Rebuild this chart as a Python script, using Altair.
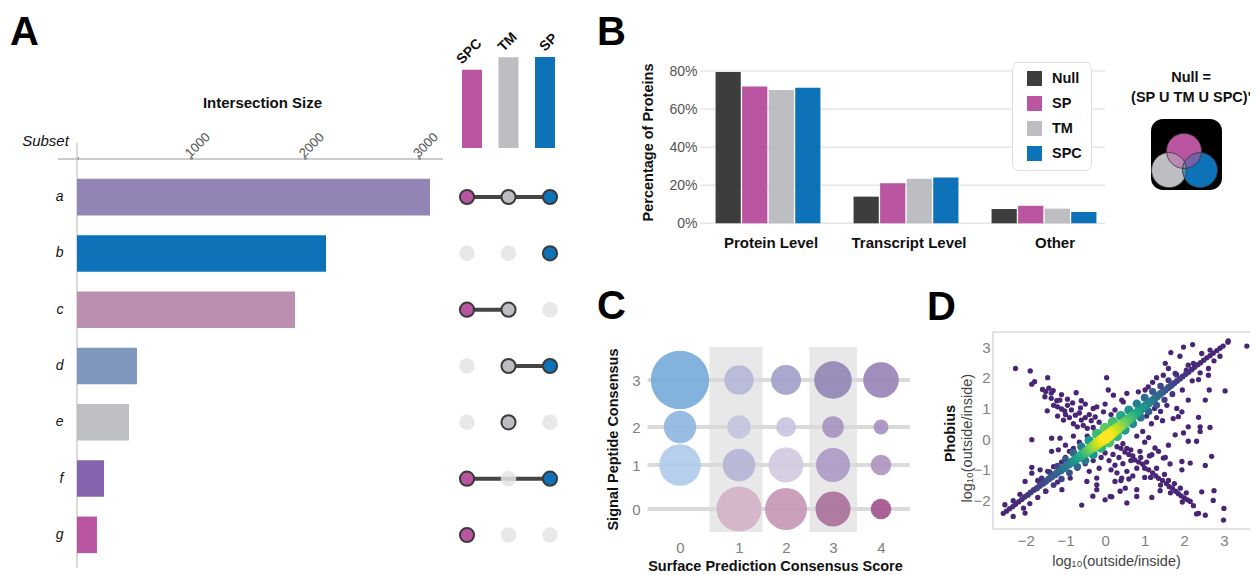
import altair as alt
import pandas as pd

W, H = 1242, 567
FONT = "Liberation Sans"

# ---------------- Panel A : UpSet ----------------
subsets = ["a", "b", "c", "d", "e", "f", "g"]
subset_sizes = [3096, 2184, 1912, 526, 456, 237, 175]
subset_colors = ["#9384b6", "#0e72b8", "#bb8fb0", "#7f96bf", "#bebfc3", "#8465ad", "#b955a1"]
subset_members = [["SPC", "TM", "SP"], ["SP"], ["SPC", "TM"], ["TM", "SP"], ["TM"], ["SPC", "SP"], ["SPC"]]
set_names = ["SPC", "TM", "SP"]
set_sizes = [5210, 6040, 6060]
set_colors = ["#b955a1", "#bdbec2", "#0e72b8"]
a_ticks = [0, 1000, 2000, 3000]

# ---------------- Panel B : grouped bars ----------------
b_categories = ["Protein Level", "Transcript Level", "Other"]
b_groups = ["Null", "SP", "TM", "SPC"]
b_colors = ["#3d3d3d", "#b955a1", "#bdbec2", "#0e72b8"]
b_null = [0.795, 0.14, 0.075]
b_sp = [0.718, 0.21, 0.092]
b_tm = [0.700, 0.234, 0.077]
b_spc = [0.712, 0.240, 0.060]
b_ticks = [0, 0.2, 0.4, 0.6, 0.8]

# ---------------- Venn icon ----------------
venn_sets = ["TM", "SP", "SPC"]
venn_cx = [0.254, 0.69, 0.465]
venn_cy = [0.72, 0.72, 0.45]
venn_colors = ["#bdbec2", "#0e72b8", "#b955a1"]
venn_text = ["Null =", "(SP U TM U SPC)'"]
venn_text_y = [-0.58, -0.30]

# ---------------- Panel C : bubble grid ----------------
c_x = [0, 1, 2, 3, 4, 0, 1, 2, 3, 4, 0, 1, 2, 3, 4, 1, 2, 3, 4]
c_y = [3, 3, 3, 3, 3, 2, 2, 2, 2, 2, 1, 1, 1, 1, 1, 0, 0, 0, 0]
c_n = [853, 216, 225, 353, 317, 262, 137, 100, 117, 56, 433, 266, 306, 289, 106, 506, 441, 306, 106]
c_col = ["#78acd9", "#b4b8d8", "#a3a1cb", "#9286b6", "#9984b6",
         "#8fb6e0", "#c3c3de", "#cbc6e0", "#a794c0", "#a893c0",
         "#b0cbeb", "#b6b4d6", "#d2cae0", "#ae9ac6", "#ae96c2",
         "#d2b2c8", "#c598b6", "#a97199", "#a3548e"]
c_shaded = [1, 3]
c_levels = [0, 1, 2, 3]

# ---------------- Panel D : density scatter ----------------
band_x = [-2.57, -2.49, -2.41, -2.33, -2.26, -2.18, -2.1, -2.03, -1.95, -1.88,
          -1.8, -1.72, -1.65, -1.57, -1.5, -1.42, -1.35, -1.27, -1.2, -1.12,
          -1.05, -0.98, -0.9, -0.83, -0.76, -0.69, -0.62, -0.55, -0.48, -0.41,
          -0.34, -0.27, -0.2, -0.14, -0.07, 0.0, 0.06, 0.12, 0.19, 0.26,
          0.33, 0.4, 0.47, 0.54, 0.61, 0.68, 0.75, 0.82, 0.89, 0.96,
          1.03, 1.1, 1.17, 1.24, 1.31, 1.38, 1.45, 1.52, 1.6, 1.67,
          1.74, 1.82, 1.89, 1.96, 2.04, 2.11, 2.19, 2.26, 2.34, 2.41,
          2.49, 2.57, 2.65, 2.73, 2.82, 2.9, 2.98, 3.1]
band_y = [-2.42, -2.35, -2.27, -2.2, -2.12, -2.04, -1.96, -1.88, -1.82, -1.74,
          -1.66, -1.6, -1.52, -1.45, -1.38, -1.3, -1.23, -1.16, -1.09, -1.02,
          -0.95, -0.88, -0.81, -0.74, -0.68, -0.61, -0.55, -0.48, -0.42, -0.35,
          -0.28, -0.22, -0.15, -0.09, -0.02, 0.04, 0.1, 0.16, 0.23, 0.3,
          0.37, 0.44, 0.51, 0.58, 0.66, 0.73, 0.8, 0.87, 0.95, 1.02,
          1.09, 1.17, 1.24, 1.31, 1.39, 1.46, 1.53, 1.6, 1.68, 1.75,
          1.82, 1.9, 1.97, 2.04, 2.12, 2.19, 2.27, 2.34, 2.42, 2.49,
          2.57, 2.65, 2.72, 2.8, 2.88, 2.96, 3.03, 3.16]
band_d = [0.1, 0.1, 0.11, 0.11, 0.12, 0.12, 0.13, 0.14, 0.15, 0.16,
          0.17, 0.18, 0.2, 0.21, 0.23, 0.25, 0.27, 0.29, 0.31, 0.34,
          0.37, 0.4, 0.43, 0.47, 0.51, 0.55, 0.6, 0.64, 0.69, 0.74,
          0.79, 0.84, 0.89, 0.93, 0.97, 1.0, 1.0, 0.97, 0.93, 0.89,
          0.85, 0.81, 0.77, 0.73, 0.69, 0.65, 0.61, 0.57, 0.53, 0.5,
          0.46, 0.43, 0.4, 0.37, 0.34, 0.31, 0.28, 0.26, 0.24, 0.22,
          0.2, 0.18, 0.17, 0.16, 0.15, 0.14, 0.13, 0.12, 0.12, 0.11,
          0.11, 0.1, 0.1, 0.1, 0.1, 0.1, 0.1, 0.1]
fringe_x = [-1.6, -1.4, -1.2, -1.0, -0.8, -0.6, -0.4, -0.2, 0.0, 0.2, 0.4, 0.6, 0.8, 1.0, 1.2, 1.4, 1.6, 1.8,
            -1.5, -1.3, -1.1, -0.9, -0.7, -0.5, -0.3, -0.1, 0.1, 0.3, 0.5, 0.7, 0.9, 1.1, 1.3, 1.5, 1.7]
fringe_y = [-1.28, -1.08, -0.88, -0.66, -0.45, -0.25, -0.05, 0.17, 0.36, 0.56, 0.76, 0.95, 1.15, 1.35, 1.55, 1.73, 1.92, 2.1,
            -1.7, -1.5, -1.3, -1.1, -0.9, -0.7, -0.5, -0.28, -0.1, 0.1, 0.3, 0.5, 0.7, 0.9, 1.1, 1.28, 1.47]
fringe_d = [0.13, 0.16, 0.2, 0.25, 0.32, 0.42, 0.55, 0.68, 0.75, 0.7, 0.6, 0.5, 0.42, 0.34, 0.27, 0.21, 0.16, 0.13,
            0.12, 0.15, 0.19, 0.24, 0.31, 0.4, 0.52, 0.65, 0.72, 0.66, 0.56, 0.47, 0.39, 0.31, 0.25, 0.19, 0.15]
upper_left_pts = [(-2.26, 2.30), (-1.89, 2.22), (-1.78, 1.87), (-1.85, 1.79), (-1.45, 2.00), (-1.58, 1.62),
                  (-1.50, 1.55), (-1.42, 1.66), (-1.36, 1.50), (-1.31, 1.58), (-1.52, 1.38), (-1.36, 1.33),
                  (-1.22, 1.25), (-1.14, 1.27), (-1.46, 0.92), (-1.20, 1.05), (-1.10, 0.98), (-0.95, 1.10),
                  (-0.85, 0.95), (-0.73, 1.51), (-0.50, 1.14), (-0.30, 1.00), (-0.21, 1.05), (0.00, 1.14),
                  (-0.04, 0.89), (-1.00, 0.80), (-0.90, 0.70), (-0.75, 0.78), (-0.65, 0.85), (-0.60, 0.62),
                  (-0.50, 0.70), (-0.40, 0.80), (-0.35, 0.60), (-0.25, 0.72), (-1.05, 0.62), (-0.80, 0.50),
                  (-0.70, 0.40), (-0.55, 0.45), (-0.45, 0.35), (-1.20, 0.75), (-1.30, 1.10), (-0.95, 1.30),
                  (-0.60, 1.25), (-1.10, 1.45), (-0.15, 0.55), (-0.30, 0.38), (0.04, 2.00), (0.08, 1.60),
                  (0.21, 1.43), (0.42, 1.27), (0.55, 1.49), (0.46, 1.21), (0.84, 1.54), (1.01, 1.60),
                  (1.09, 1.70), (0.25, 0.95), (0.15, 0.80), (-0.82, 1.18), (-1.02, 0.92), (-0.62, 1.02)]
upper_right_pts = [(1.66, 2.82), (1.89, 2.70), (1.98, 3.00), (2.21, 3.08), (2.44, 2.79), (2.65, 2.90),
                   (1.52, 2.47), (2.10, 2.41), (2.23, 2.47), (1.47, 2.08), (1.77, 2.14), (1.30, 2.00),
                   (1.20, 1.85), (1.60, 2.30), (3.58, 3.03), (3.11, 3.20), (2.61, 2.30), (2.40, 2.16),
                   (2.36, 1.94), (2.61, 2.08), (2.63, 1.60), (3.03, 1.57), (2.10, 1.27), (2.53, 1.27),
                   (1.81, 1.00), (1.94, 0.89), (1.85, 0.73), (1.72, 0.67), (2.10, 0.40), (2.40, 0.40),
                   (2.65, 0.38), (2.36, 0.71), (1.17, 0.50), (1.30, 0.70), (1.40, 0.90), (1.56, 1.10),
                   (1.25, 1.00), (1.45, 0.60), (2.20, 1.90), (1.95, 1.60), (2.75, 2.55), (2.90, 2.70),
                   (2.05, 2.25), (1.70, 1.45), (1.05, 0.75)]
right_arm_pts = [(1.77, 0.14), (1.98, 0.20), (2.10, -0.07), (2.31, -0.07), (2.40, 0.25), (2.69, -0.56),
                 (2.53, -0.86), (1.94, -0.73), (2.15, -0.78), (1.94, -1.00), (1.47, -0.62), (1.52, -0.60),
                 (1.64, -0.81), (1.26, -0.29), (1.35, -0.40), (1.18, -0.51), (1.00, -0.10), (0.80, 0.10),
                 (0.95, 0.25), (1.10, 0.05), (1.60, -0.20), (0.30, -0.25), (0.40, -0.30), (0.50, -0.42),
                 (0.60, -0.50), (0.70, -0.55), (0.75, -0.68), (0.85, -0.75), (0.95, -0.82), (1.00, -0.95),
                 (1.10, -1.00), (1.20, -1.10), (1.28, -1.20), (1.35, -1.28), (1.45, -1.35), (1.55, -1.45),
                 (1.62, -1.55), (1.70, -1.60), (1.78, -1.70), (1.85, -1.78), (1.92, -1.85), (2.00, -1.92),
                 (2.08, -1.98), (2.15, -2.03), (2.23, -2.17), (0.55, -0.30), (0.65, -0.70), (0.90, -0.60),
                 (0.80, -0.95), (1.05, -0.75), (1.15, -1.25), (1.30, -0.95), (1.40, -1.50), (1.50, -1.15),
                 (1.60, -1.35), (1.65, -1.75), (1.75, -1.45), (1.90, -1.60), (1.95, -2.05), (2.05, -1.75),
                 (0.20, -0.50), (0.35, -0.60), (0.45, -0.80), (0.25, -0.85), (0.10, -0.70), (0.00, -0.45),
                 (-0.10, -0.60), (0.15, -1.00), (0.30, -1.10), (0.55, -1.05), (0.60, -1.30), (0.70, -1.20),
                 (0.51, -1.60), (0.55, -2.08), (0.80, -1.65), (0.80, -1.87), (1.18, -1.90), (1.39, -1.68),
                 (2.44, -1.72), (2.75, -1.68), (2.73, -2.00), (3.00, -2.26), (2.99, -2.64), (2.36, -2.42),
                 (2.31, -2.44), (2.53, -2.48), (0.45, -0.15), (0.65, -0.35), (0.88, -0.40), (1.12, -0.55),
                 (1.00, -1.25), (0.40, -1.35)]
lower_left_pts = [(-0.59, -2.15), (-0.31, -1.86), (0.17, -1.88), (-0.21, -1.27), (-0.21, -1.49), (-0.21, -1.65),
                  (0.00, -1.98), (0.13, -1.87), (0.38, -1.70), (0.25, -1.38), (0.42, -1.27), (-0.46, -1.38),
                  (-0.88, -1.27), (-1.09, -1.65), (-1.85, -0.02), (-1.35, 0.03), (-1.14, 0.03), (-1.35, -0.40),
                  (-1.18, -0.35), (-1.85, -0.92), (-1.64, -1.00), (-1.85, -1.11), (-2.02, -1.38), (-2.06, -2.25),
                  (-2.02, -2.41), (-2.32, -2.52), (-2.53, -2.14), (-2.32, -2.01), (-1.60, -1.30), (-1.30, -0.90),
                  (-1.00, -0.60), (-0.80, -0.30), (-0.60, -0.20), (-1.50, -1.70), (-1.20, -1.40), (-0.90, -1.10),
                  (-0.70, -0.95), (-0.50, -0.80), (-0.30, -0.70), (-1.70, -1.90), (-1.90, -2.10), (-0.90, -0.40),
                  (-1.10, -0.75), (-0.65, -0.10), (-0.45, 0.10), (-0.25, 0.25), (-0.80, 0.10), (-1.00, -0.20),
                  (-1.45, -1.05), (-1.70, -1.35), (-2.15, -1.80), (-0.40, -1.05), (-0.15, -0.95)]
sparse_density = 0.1

# ================= build tables =================
dfA = pd.DataFrame({"subset": subsets, "size": subset_sizes})
mat_rows, link_rows = [], []
for s, mem in zip(subsets, subset_members):
    idx = [set_names.index(m) for m in mem]
    for i, st in enumerate(set_names):
        mat_rows.append({"subset": s, "col": i, "set": st, "active": st in mem})
    if len(idx) > 1:
        link_rows.append({"subset": s, "c0": min(idx), "c1": max(idx)})
df_mat = pd.DataFrame(mat_rows)
df_links = pd.DataFrame(link_rows)
dfS = pd.DataFrame({"set": set_names, "col": list(range(len(set_names))), "n": set_sizes})

rowsB = []
for g, vals in zip(b_groups, [b_null, b_sp, b_tm, b_spc]):
    for c, v in zip(b_categories, vals):
        rowsB.append({"cat": c, "grp": g, "pct": v})
dfB = pd.DataFrame(rowsB)

dfV = pd.DataFrame({"set": venn_sets, "cx": venn_cx, "cy": venn_cy})
dfVT = pd.DataFrame({"t": venn_text, "ty": venn_text_y})

dfC = pd.DataFrame({"sx": c_x, "sy": c_y, "n": c_n, "col": c_col})

sparse = upper_left_pts + upper_right_pts + right_arm_pts + lower_left_pts
dfD = pd.DataFrame({
    "x": [p[0] for p in sparse] + fringe_x + band_x,
    "y": [p[1] for p in sparse] + fringe_y + band_y,
    "dens": [sparse_density] * len(sparse) + fringe_d + band_d,
}).sort_values("dens", kind="stable")

one = pd.DataFrame({"k": [0]})


def sc(**kw):
    return alt.Scale(**kw)


# ================= Panel A =================
xA = dict(domain=[0, 3210], range=[69, 435])
yA = dict(domain=subsets, range=[161, 555], paddingInner=0.35, paddingOuter=0.175)
barsA = alt.Chart(dfA).mark_bar().encode(
    x=alt.X("size:Q", scale=sc(**xA), axis=alt.Axis(
        orient="top", offset=-151, values=a_ticks, format="d",
        labelExpr="datum.value == 0 ? '' : datum.label",
        labelAngle=-45, labelAlign="left", labelBaseline="middle", labelPadding=2, labelOffset=-4,
        labelFlush=False, labelFontSize=13, labelColor="#555", tickSize=2, tickWidth=3, tickColor="#666",
        domain=False, grid=False, title="Intersection Size", titleFontSize=15, titleFontWeight="bold",
        titleColor="#111", titleX=254, titleY=-57, titleAlign="center", titleBaseline="middle")),
    y=alt.Y("subset:N", scale=sc(**yA), sort=subsets, axis=alt.Axis(
        orient="left", offset=-69, domain=False, ticks=False, grid=False, labelPadding=14,
        labelFontSize=14, labelFontStyle="italic", labelColor="#111",
        title="Subset", titleAngle=0, titleX=-32, titleY=132, titleFontSize=15, titleFontStyle="italic",
        titleFontWeight="normal", titleColor="#111", titleAlign="center", titleBaseline="middle")),
    color=alt.Color("subset:N", scale=sc(domain=subsets, range=subset_colors), legend=None),
)
lineAh = alt.Chart(one).mark_rule(color="#999", strokeWidth=1.2).encode(
    x=alt.value(50), x2=alt.value(435), y=alt.value(151))
lineAv = alt.Chart(one).mark_rule(color="#cfcfcf", strokeWidth=1.5).encode(
    x=alt.value(69), y=alt.value(135), y2=alt.value(560))

xM = dict(domain=[0, 2], range=[459, 542])
yM = dict(type="point", domain=subsets, range=[189, 527], padding=0)


def set_color():
    return alt.Color("set:N", scale=sc(domain=set_names, range=set_colors), legend=None)


links = alt.Chart(df_links).mark_rule(color="#454545", strokeWidth=4).encode(
    x=alt.X("c0:Q", scale=sc(**xM), axis=None), x2="c1:Q",
    y=alt.Y("subset:N", scale=sc(**yM), axis=None))
dots_off = alt.Chart(df_mat).transform_filter("!datum.active").mark_circle(
    size=240, color="#e4e4e4", opacity=0.85).encode(
    x=alt.X("col:Q", scale=sc(**xM), axis=None), y=alt.Y("subset:N", scale=sc(**yM), axis=None))
dots_on = alt.Chart(df_mat).transform_filter("datum.active").mark_circle(
    size=200, stroke="#3a3a3a", strokeWidth=2, opacity=1).encode(
    x=alt.X("col:Q", scale=sc(**xM), axis=None), y=alt.Y("subset:N", scale=sc(**yM), axis=None),
    color=set_color())

yS = dict(domain=[0, 6060], range=[140, 49])
setbars = alt.Chart(dfS).mark_bar(size=20).encode(
    x=alt.X("col:Q", scale=sc(**xM), axis=None), y=alt.Y("n:Q", scale=sc(**yS), axis=None),
    color=set_color())
setlabels = alt.Chart(dfS).mark_text(
    angle=315, align="left", baseline="alphabetic", dy=-7, fontSize=14, fontWeight="bold", color="#111"
).encode(x=alt.X("col:Q", scale=sc(**xM), axis=None), y=alt.Y("n:Q", scale=sc(**yS), axis=None),
         text="set:N")

# ================= Panel B =================
yB = dict(domain=[0, 0.8], range=[215.3, 63])
gridB = alt.Chart(pd.DataFrame({"v": b_ticks})).mark_rule(color="#e6e6e6", strokeWidth=1.5).encode(
    y=alt.Y("v:Q", scale=sc(**yB), axis=None), x=alt.value(692), x2=alt.value(1097))
barsB = alt.Chart(dfB).mark_bar().encode(
    x=alt.X("cat:N", sort=b_categories,
            scale=sc(domain=b_categories, range=[691, 1105], paddingInner=0.24, paddingOuter=0.12),
            axis=alt.Axis(orient="bottom", offset=215.3 - H, ticks=False, domain=False, grid=False,
                          labelAngle=0, labelPadding=12, labelFontSize=15, labelFontWeight="bold",
                          labelColor="#111", title=None,
                          labelOffset={"condition": {"test": "datum.value === 'Other'", "value": 11},
                                       "value": 3})),
    xOffset=alt.XOffset("grp:N", sort=b_groups, scale=sc(domain=b_groups, paddingInner=0.05)),
    y=alt.Y("pct:Q", scale=sc(**yB), axis=alt.Axis(
        orient="left", offset=-692, values=b_ticks, format=".0%", ticks=False, domain=False, grid=False,
        labelPadding=3, labelFontSize=14, labelColor="#555", labelFlush=False,
        title="Percentage of Proteins", titleFontSize=14.5, titleFontWeight="bold", titleColor="#111",
        titleAngle=270, titleX=-52, titleY=134, titleAlign="center", titleBaseline="middle")),
    color=alt.Color("grp:N", sort=b_groups, scale=sc(domain=b_groups, range=b_colors),
                    legend=alt.Legend(orient="none", legendX=1004, legendY=54, title=None,
                                      symbolType="square", symbolSize=225, symbolStrokeWidth=0,
                                      symbolOffset=6, labelOffset=10, labelFontSize=14.5,
                                      labelFontWeight="bold", labelColor="#111", padding=9,
                                      rowPadding=9, strokeColor="#dcdcdc", fillColor="white",
                                      cornerRadius=6)),
)

# ================= Venn icon =================
xV = dict(domain=[0, 1], range=[1143, 1214])
yV = dict(domain=[0, 1], range=[111, 182])


def venn_color():
    return alt.Color("set:N", scale=sc(domain=venn_sets, range=venn_colors), legend=None)


vbox = alt.Chart(pd.DataFrame({"x0": [0], "x1": [1], "y0": [0], "y1": [1]})).mark_rect(
    color="black", cornerRadius=12).encode(
    x=alt.X("x0:Q", scale=sc(**xV), axis=None), x2="x1:Q",
    y=alt.Y("y0:Q", scale=sc(**yV), axis=None), y2="y1:Q")
vcirc = alt.Chart(dfV).mark_circle(size=1225, opacity=1).encode(
    x=alt.X("cx:Q", scale=sc(**xV), axis=None), y=alt.Y("cy:Q", scale=sc(**yV), axis=None),
    color=venn_color())
vtm = alt.Chart(dfV).transform_filter("datum.set == 'TM'").mark_circle(size=1225, opacity=0.5).encode(
    x=alt.X("cx:Q", scale=sc(**xV), axis=None), y=alt.Y("cy:Q", scale=sc(**yV), axis=None),
    color=venn_color())
vsp = alt.Chart(dfV).transform_filter("datum.set == 'SP'").mark_circle(size=1225, opacity=0.4).encode(
    x=alt.X("cx:Q", scale=sc(**xV), axis=None), y=alt.Y("cy:Q", scale=sc(**yV), axis=None),
    color=venn_color())
vout = alt.Chart(dfV).mark_point(shape="circle", size=1225, filled=False, color="#333",
                                 strokeWidth=0.8, opacity=1).encode(
    x=alt.X("cx:Q", scale=sc(**xV), axis=None), y=alt.Y("cy:Q", scale=sc(**yV), axis=None))
vtext = alt.Chart(dfVT).mark_text(fontSize=14.5, fontWeight="bold", color="#111",
                                  align="center", baseline="middle").encode(
    x=alt.XDatum(0.565, scale=sc(**xV), axis=None), y=alt.Y("ty:Q", scale=sc(**yV), axis=None),
    text="t:N")

# ================= Panel C =================
xC = dict(domain=[0, 1, 2, 3, 4], range=[672, 731, 778, 825, 873])
yC = dict(domain=[0, 1, 2, 3], range=[501, 457, 419, 372])
shadeC = alt.Chart(pd.DataFrame({"col": c_shaded})).transform_calculate(
    x0="datum.col - 0.5", x1="datum.col + 0.5").mark_rect(color="#e8e8e8").encode(
    x=alt.X("x0:Q", scale=sc(**xC), axis=None), x2="x1:Q",
    y=alt.YDatum(-0.52, scale=sc(**yC), axis=None), y2=alt.Y2Datum(3.7))
gridC = alt.Chart(pd.DataFrame({"lvl": c_levels})).mark_rule(color="#dadada", strokeWidth=4).encode(
    y=alt.Y("lvl:Q", scale=sc(**yC), axis=None),
    x=alt.XDatum(-0.55, scale=sc(**xC), axis=None), x2=alt.X2Datum(4.6))
circC = alt.Chart(dfC).mark_circle(opacity=0.92).encode(
    x=alt.X("sx:Q", scale=sc(**xC), axis=alt.Axis(
        orient="bottom", offset=526 - H, values=[0, 1, 2, 3, 4], format="d", ticks=False, domain=False,
        grid=False, labelFlush=False, labelPadding=6, labelFontSize=15, labelColor="#808080",
        title="Surface Prediction Consensus Score", titleFontSize=14.5, titleFontWeight="bold",
        titleColor="#111", titleX=767, titleY=32, titleAlign="center", titleBaseline="middle")),
    y=alt.Y("sy:Q", scale=sc(**yC), axis=alt.Axis(
        orient="left", offset=-636, values=c_levels, format="d", ticks=False, domain=False, grid=False,
        labelFlush=False, labelPadding=4, labelFontSize=15, labelColor="#808080",
        title="Signal Peptide Consensus", titleFontSize=14.5, titleFontWeight="bold", titleColor="#111",
        titleAngle=270, titleX=-31, titleY=431, titleAlign="center", titleBaseline="middle")),
    size=alt.Size("n:Q", scale=sc(domain=[0, 1000], range=[0, 4000]), legend=None),
    color=alt.Color("col:N", scale=None),
)

# ================= Panel D =================
xD = dict(domain=[-2.83, 3.76], range=[985, 1246])
yD = dict(domain=[-2.93, 3.49], range=[521, 324])
frameD = alt.Chart(one).mark_rect(fillOpacity=0, stroke="#d9d9d9", strokeWidth=1.5).encode(
    x=alt.XDatum(-2.83, scale=sc(**xD), axis=None), x2=alt.X2Datum(3.76),
    y=alt.YDatum(-2.93, scale=sc(**yD), axis=None), y2=alt.Y2Datum(3.49))
ptsD = alt.Chart(dfD).mark_circle(opacity=1).encode(
    x=alt.X("x:Q", scale=sc(**xD), axis=alt.Axis(
        orient="bottom", offset=521 - H, values=[-2, -1, 0, 1, 2, 3], ticks=False, domain=False, grid=False,
        labelFlush=False, labelPadding=4, labelFontSize=15, labelColor="#808080",
        title="log₁₀(outside/inside)", titleFontSize=14.5, titleFontWeight="normal", titleColor="#444",
        titleX=1108, titleY=32, titleAlign="center", titleBaseline="middle")),
    y=alt.Y("y:Q", scale=sc(**yD), axis=alt.Axis(
        orient="left", offset=-985, values=[-2, -1, 0, 1, 2, 3], ticks=False, domain=False, grid=False,
        labelFlush=False, labelPadding=3, labelFontSize=15, labelColor="#808080",
        title="Phobius", titleFontSize=14.5, titleFontWeight="bold", titleColor="#111",
        titleAngle=270, titleX=-43, titleY=425, titleAlign="center", titleBaseline="middle")),
    color=alt.Color("dens:Q", scale=sc(scheme="viridis", domain=[0, 1]), legend=None),
    size=alt.Size("dens:Q", scale=sc(domain=[0.1, 1], range=[28, 150]), legend=None),
    order=alt.Order("dens:Q", sort="ascending"),
)
ylabD = alt.Chart(pd.DataFrame({"t": ["log₁₀(outside/inside)"]})).mark_text(
    angle=270, fontSize=14.5, color="#444", align="center", baseline="middle").encode(
    x=alt.XDatum(-3.47, scale=sc(**xD), axis=None), y=alt.YDatum(0.03, scale=sc(**yD), axis=None),
    text="t:N")


# ================= panel letters =================
def letter(ch, px, py):
    return alt.Chart(pd.DataFrame({"t": [ch]})).mark_text(
        align="left", baseline="alphabetic", fontSize=40, fontWeight="bold", color="black"
    ).encode(text="t:N", x=alt.value(px), y=alt.value(py))


letters = [letter("A", 2, 37), letter("B", 589, 37), letter("C", 589, 311), letter("D", 919, 312)]

chart = alt.layer(
    lineAh, lineAv, barsA, links, dots_off, dots_on, setbars, setlabels,
    gridB, barsB,
    vbox, vcirc, vtm, vsp, vout, vtext,
    shadeC, gridC, circC,
    frameD, ptsD, ylabD,
    *letters
).resolve_scale(
    x="independent", y="independent", color="independent", size="independent"
).resolve_axis(
    x="independent", y="independent"
).resolve_legend(
    color="independent", size="independent"
).properties(
    width=W, height=H, padding=0, autosize=alt.AutoSizeParams(type="none")
).configure(font=FONT).configure_view(stroke=None)

chart.save("out.html", embed_options={"renderer": "svg", "actions": False})
